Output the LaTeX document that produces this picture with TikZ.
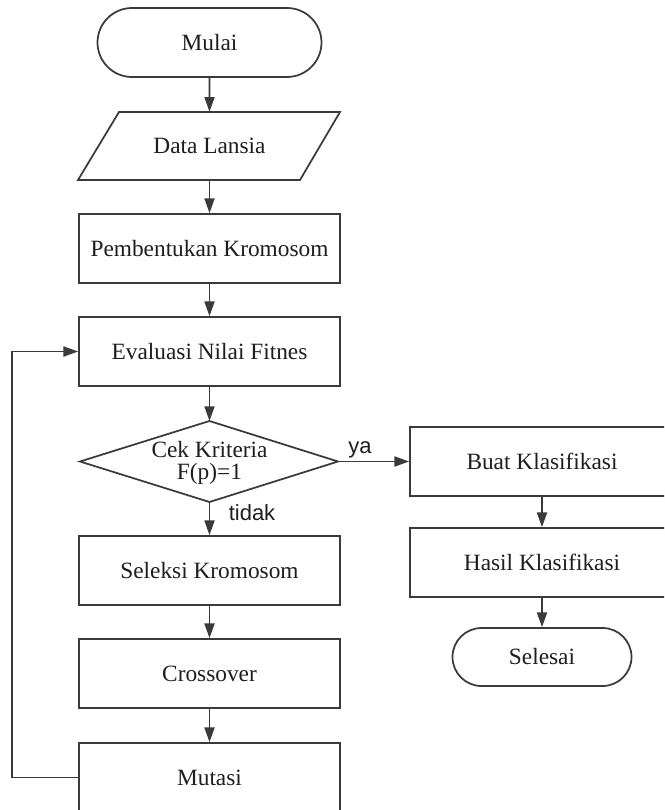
\documentclass[tikz,border=0pt]{standalone}
\usepackage{fontspec}
\setmainfont{Liberation Serif}
\newfontfamily\lblfont{Liberation Sans}
\usetikzlibrary{arrows.meta,shapes.misc}
\definecolor{linec}{HTML}{3A3A3A}
\definecolor{textc}{HTML}{1E1E1E}
\begin{document}
\begin{tikzpicture}[x=0.75pt,y=-0.75pt,
  every node/.style={font=\fontsize{17.5}{19}\selectfont, text=textc},
  procbox/.style={draw=linec, line width=1.3pt, rectangle, minimum width=195.75pt, minimum height=51.75pt, inner sep=0pt},
  rbox/.style={procbox, minimum width=198pt},
  term/.style={draw=linec, line width=1.3pt, rounded rectangle, inner sep=0pt},
  shapeline/.style={draw=linec, line width=1.3pt, line join=miter},
  flow/.style={draw=linec, line width=1.3pt, -{Triangle[length=11pt,width=7.5pt]}},
  lbl/.style={font=\lblfont\fontsize{16.5}{17}\selectfont}]
\clip (0,0) rectangle (664,810);
\fill[white] (0,0) rectangle (664,810);
% left column
\node[term, minimum width=168pt, minimum height=51.75pt] (mulai) at (209.5,42.5) {Mulai};
\node[minimum width=150pt, minimum height=51pt, inner sep=0pt] (data) at (209.5,146) {Data Lansia};
\draw[shapeline] (119,112) -- (340,112) -- (300,180) -- (78,180) -- cycle;
\node[procbox] (pemb) at (209.5,248.5) {Pembentukan Kromosom};
\node[procbox] (eval) at (209.5,351.5) {Evaluasi Nilai Fitnes};
\coordinate (dt) at (209.5,421);
\coordinate (dr) at (338,461.5);
\coordinate (db) at (209.5,502);
\coordinate (dl) at (80,461.5);
\draw[shapeline] (dt) -- (dr) -- (db) -- (dl) -- cycle;
\node[align=center, font=\fontsize{17.5}{16.5}\selectfont] (cek) at (209.5,463) {Cek Kriteria\\F(p)=1};
\node[procbox] (sel) at (209.5,570.5) {Seleksi Kromosom};
\node[procbox] (cross) at (209.5,673.5) {Crossover};
\node[procbox] (mut) at (209.5,777.5) {Mutasi};
% right column
\node[rbox] (buat) at (542,461.5) {Buat Klasifikasi};
\node[rbox] (hasil) at (542,562.5) {Hasil Klasifikasi};
\node[term, minimum width=134.25pt, minimum height=43.5pt] (selesai) at (542,657) {Selesai};
% connectors
\draw[flow] (mulai) -- (data);
\draw[flow] (data) -- (pemb);
\draw[flow] (pemb) -- (eval);
\draw[flow] (eval) -- (dt);
\draw[flow] (db) -- (sel);
\draw[flow] (sel) -- (cross);
\draw[flow] (cross) -- (mut);
\draw[flow] (dr) -- (buat);
\draw[flow] (buat) -- (hasil);
\draw[flow] (hasil) -- (selesai);
\draw[flow] (mut.west) -- ++(-66,0) |- (eval.west);
% labels
\node[lbl] (ya) at (360,450) {ya};
\node[lbl] (tidak) at (252,513) {tidak};
\end{tikzpicture}
\end{document}
